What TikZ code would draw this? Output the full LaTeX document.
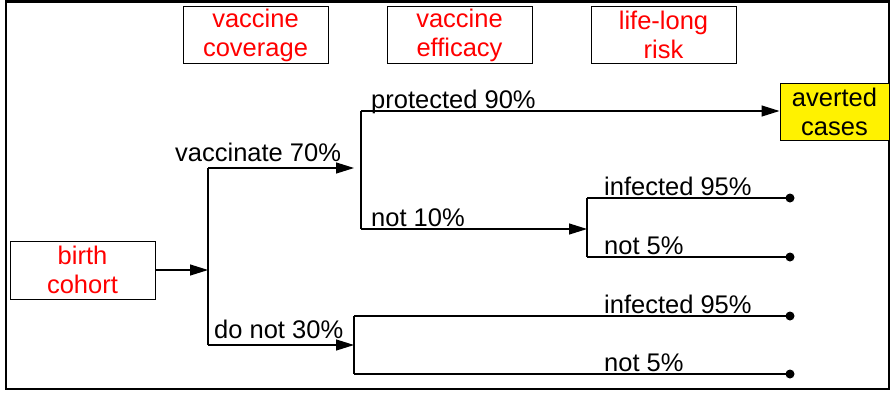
\documentclass[tikz,border=0pt]{standalone}
\usepackage{fontspec}
\setmainfont{Liberation Sans}
\usetikzlibrary{arrows.meta}
\newcommand\mylblfont{\fontsize{25.5}{29}\selectfont}
\begin{document}
\begin{tikzpicture}[x=1pt,y=-1pt,
  box/.style={draw, line width=1pt, minimum width=145pt, minimum height=57pt, inner sep=0pt, align=center, text=red, font=\mylblfont},
  ln/.style={line width=1.2pt},
  arr/.style={line width=1.2pt, -{Triangle[length=18pt,width=11pt]}},
  lbl/.style={anchor=base west, inner sep=0pt, font=\mylblfont},
  dotfill/.style={fill=black}]
\useasboundingbox (0,0) rectangle (892,392);
\draw[line width=2.2pt] (6,1.5) rectangle (889,389);
% header boxes
\node[box] (cov) at (255.5,35) {vaccine\\coverage};
\node[box] (eff) at (459.5,35) {vaccine\\efficacy};
\node[box] (risk) at (663.5,35) {life-long\\risk};
% main boxes
\node[box, minimum height=58pt] (birth) at (82.5,270) {birth\\cohort};
\node[box, fill=yellow, text=black, minimum width=109pt] (averted) at (834.5,111.5) {averted\\cases};
% junction coordinates
\coordinate (b1) at (208,270);
\coordinate (v1t) at (208,168);
\coordinate (v1b) at (208,345);
\coordinate (a1t) at (354,168);
\coordinate (a1b) at (354,345);
\coordinate (v2t) at (361,111);
\coordinate (v2b) at (361,229);
\coordinate (v3a) at (587,229);
\coordinate (v3t) at (587,198);
\coordinate (v3b) at (587,257);
\coordinate (v4t) at (354,316);
\coordinate (v4b) at (354,374);
\coordinate (d1) at (790,198);
\coordinate (d2) at (790,257);
\coordinate (d3) at (790,316);
\coordinate (d4) at (790,374);
% connectors
\draw[arr] (birth.east) -- (b1);
\draw[ln] (v1t) -- (v1b);
\draw[arr] (v1t) -- (a1t);
\draw[arr] (v1b) -- (a1b);
\draw[ln] (v2t) -- (v2b);
\draw[arr] (v2t) -- (v2t -| averted.west);
\draw[arr] (v2b) -- (v3a);
\draw[ln] (v3t) -- (v3b);
\draw[ln] (v3t) -- (d1);
\draw[ln] (v3b) -- (d2);
\draw[ln] (v4t) -- (v4b);
\draw[ln] (v4t) -- (d3);
\draw[ln] (v4b) -- (d4);
\foreach \d in {d1,d2,d3,d4} \fill[dotfill] (\d) circle (4.5pt);
% labels
\node[lbl] (lvac) at (175,161) {vaccinate 70\%};
\node[lbl] (ldon) at (214,338) {do not 30\%};
\node[lbl] (lpro) at (371,108) {protected 90\%};
\node[lbl] (lnot1) at (371,226) {not 10\%};
\node[lbl] (linf1) at (604,195) {infected 95\%};
\node[lbl] (lnot2) at (604,254) {not 5\%};
\node[lbl] (linf2) at (604,313) {infected 95\%};
\node[lbl] (lnot3) at (604,371) {not 5\%};
\end{tikzpicture}
\end{document}
